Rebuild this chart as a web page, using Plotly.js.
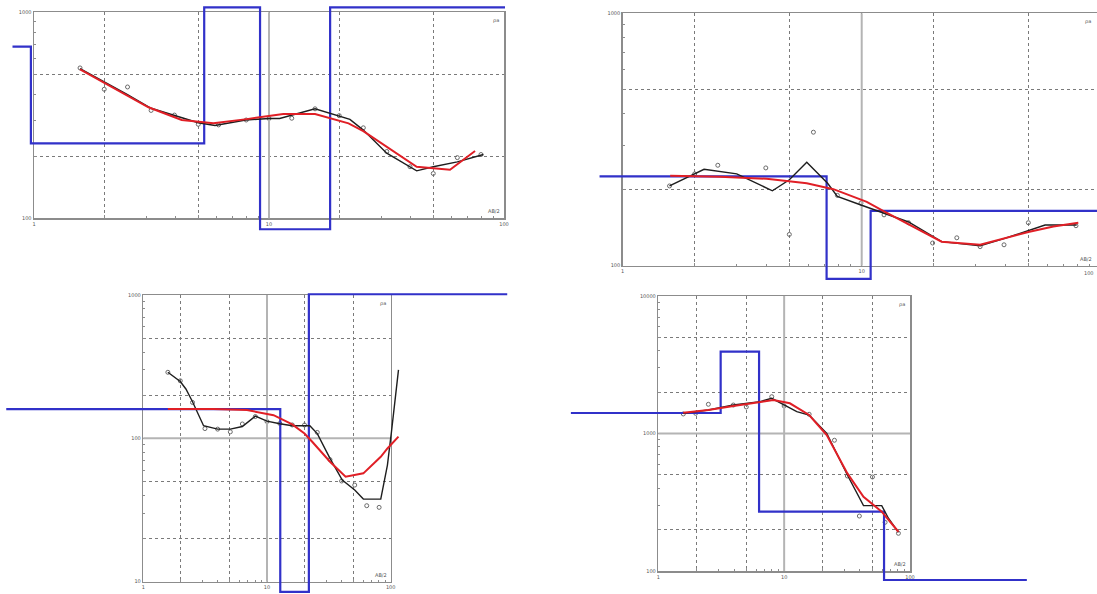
<!DOCTYPE html>
<html><head><meta charset="utf-8">
<script src="https://cdn.plot.ly/plotly-3.0.1.min.js"></script>
<style>html,body{margin:0;padding:0;background:#fff}#chart{width:1097px;height:594px}</style>
</head><body><div id="chart"></div>
<script>
// ---------- Panel 1 (top-left) ----------
const p1_ab  = [1.57,1.99,2.5,3.15,3.96,5.0,6.1,8.0,10,12.5,15.7,19.9,25.2,31.7,39.8,50,63.3,79.8];
const p1_rho = [537,423,434,334,317,286,284,300,305,306,340,315,275,211,178,165,197,204];
const p1_obs_x = [1.57,1.99,2.5,3.15,3.96,5.0,5.89,7.96,10,11.1,15.7,22.1,25.2,31.7,42.5,50,63.3,81.7];
const p1_obs_y = [533,460,398,342,317,291,282,300,305,305,340,302,268,207,170,178,188,204];
const p1_fit_x = [1.57,1.99,2.5,3.07,4.25,5.8,8.04,11.5,15.7,21.8,25.2,31.7,42.5,58.9,75.3];
const p1_fit_y = [529,455,392,346,300,289,303,321,321,289,265,223,178,172,212];
const p1_layer_ab  = [0.81,0.97,5.3,9.16,18.2,101];
const p1_layer_rho = [681,231,1057,88.5,1057,1057];

// ---------- Panel 2 (top-right) ----------
const p2_ab  = [1.57,2.0,2.5,3.97,4.98,6.28,7.91,9.93,12.4,15.7,19.8,25.0,31.3,39.4,49.8,78.8];
const p2_rho = [207,231,250,244,133,338,190,177,159,148,123,129,119,121,148,144];
const p2_obs_x = [1.57,2.01,2.19,3.0,4.23,4.98,5.89,7.2,7.91,9.93,12.4,15.7,21.6,31.3,39.4,49.8,58.5,79.3];
const p2_obs_y = [207,231,241,231,198,219,257,212,188,174,161,149,124.5,120,128,138,145,145];
const p2_fit_x = [1.58,2.55,4.0,5.89,7.61,10.5,12.4,15.9,21.6,31.3,39.4,49.8,63.4,80.6];
const p2_fit_y = [227,225,221,212,201,179,164,145,124.5,121,128,136,143,148];
const p2_layer_ab  = [0.8,7.13,10.9,120];
const p2_layer_rho = [226,88.6,165,165];

// ---------- Panel 3 (bottom-left) ----------
const p3_ab  = [1.58,1.99,2.5,3.15,3.99,5.05,6.32,8.05,10,12.7,16,20.1,25.5,32.3,40.1,51.2,64,80.6,101];
const p3_rho = [289,252,178,117,116,111,126,142,131,127,124,124,110,71,50.4,47.2,33.9,33.0,131];
const p3_obs_x = [1.58,1.99,2.21,2.5,3.07,3.99,5.05,6.32,8.05,10,12.7,16,22.2,25.5,32.3,40.6,51.2,60.1,83.1,94.1,101.4,115.6];
const p3_obs_y = [289,249,221,180,122.5,116,116,121,143,132,126.5,122.5,122.5,108,72.5,51.2,43.6,37.7,37.7,65.1,111,300];
const p3_fit_x = [1.58,3.7,6.89,11.3,16,20.1,23.2,32.3,43.2,60.1,83.1,94.1,115.6];
const p3_fit_y = [160,160,157.6,145,125,108,94.7,68.7,54,57,74.4,85,102.7];
const p3_layer_ab  = [0.078,12.8,21.8,875];
const p3_layer_rho = [160,8.5,1012,1012];

// ---------- Panel 4 (bottom-right) ----------
const p4_ab  = [1.58,1.98,2.5,3.95,5.0,7.97,10,15.8,25.1,31.8,39.6,50.3,63.4,80.9];
const p4_rho = [1387,1403,1631,1611,1559,1852,1585,1380,893,491,251,483,226,188];
const p4_obs_x = [1.58,1.98,2.5,3.95,5.01,6.43,7.96,9.98,12.6,15.8,21.8,31.8,42.7,59.6,67.4,80.9];
const p4_obs_y = [1402,1441,1482,1612,1658,1704,1802,1612,1441,1363,1003,499,299,299,242,191];
const p4_fit_x = [1.58,2.5,3.95,6.43,8.21,11.1,15.8,21.8,31.8,42.7,59.6,80.9];
const p4_fit_y = [1418,1482,1585,1704,1752,1658,1363,975,513,347,270,193];
const p4_layer_ab  = [0.202,3.13,6.32,62.2,848];
const p4_layer_rho = [1409,3936,270,86,86];

// ---------- Tick labels ----------
const xTickVals = [1,2,5,10,20,50,100];
const xTickText = ['1','','','10','','','100'];
const xMinor = [3,4,6,7,8,9,30,40,60,70,80,90];
const yTickValsA = [100,200,500,1000];
const yTickTextA = ['100','','','1000'];
const yMinorA = [300,400,600,700,800,900];
const yTickValsB = [10,20,50,100,200,500,1000];
const yTickTextB = ['10','','','100','','','1000'];
const yMinorB = [30,40,60,70,80,90,300,400,600,700,800,900];
const yTickValsC = [100,200,500,1000,2000,5000,10000];
const yTickTextC = ['100','','','1000','','','10000'];
const yMinorC = [300,400,600,700,800,900,3000,4000,6000,7000,8000,9000];
const xDecadeLines = [10];
const yDecadeLinesB = [100];
const yDecadeLinesC = [1000];

const W = 1097, H = 594;

const panels = [
  {ab:p1_ab, rho:p1_rho, ox:p1_obs_x, oy:p1_obs_y, fx:p1_fit_x, fy:p1_fit_y, lx:p1_layer_ab, ly:p1_layer_rho,
   ytv:yTickValsA, ytt:yTickTextA, ymin:yMinorA, ydec:[],
   f:{x0:34, x1:504, y0:12.3, y1:218.3, xr:[0,2], yr:[2,3]}},
  {ab:p2_ab, rho:p2_rho, ox:p2_obs_x, oy:p2_obs_y, fx:p2_fit_x, fy:p2_fit_y, lx:p2_layer_ab, ly:p2_layer_rho,
   ytv:yTickValsA, ytt:yTickTextA, ymin:yMinorA, ydec:[],
   f:{x0:622.7, x1:1100.7, y0:13.3, y1:265.7, xr:[0,2], yr:[2,3]}},
  {ab:p3_ab, rho:p3_rho, ox:p3_obs_x, oy:p3_obs_y, fx:p3_fit_x, fy:p3_fit_y, lx:p3_layer_ab, ly:p3_layer_rho,
   ytv:yTickValsB, ytt:yTickTextB, ymin:yMinorB, ydec:yDecadeLinesB,
   f:{x0:143.3, x1:390.7, y0:295, y1:581.7, xr:[0,2], yr:[1,3]}},
  {ab:p4_ab, rho:p4_rho, ox:p4_obs_x, oy:p4_obs_y, fx:p4_fit_x, fy:p4_fit_y, lx:p4_layer_ab, ly:p4_layer_rho,
   ytv:yTickValsC, ytt:yTickTextC, ymin:yMinorC, ydec:yDecadeLinesC,
   f:{x0:658.3, x1:910, y0:296, y1:571, xr:[0,2], yr:[2,4]}}
];

const FRAME = '#8c8c8c', GRID = '#7a7a7a', LABEL = '#555';
const tickFont = {family:'DejaVu Sans, sans-serif', size:5, color:LABEL};
const traces = [], shapes = [], annotations = [];
const layout = {
  width:W, height:H, margin:{l:0,r:0,t:0,b:0}, showlegend:false,
  paper_bgcolor:'#ffffff', plot_bgcolor:'rgba(0,0,0,0)'
};

panels.forEach((p, i) => {
  const f = p.f;
  const n = i + 1, m = i + 5;
  const xk = n === 1 ? 'x' : 'x' + n, yk = n === 1 ? 'y' : 'y' + n;
  const xo = 'x' + m, yo = 'y' + m;
  const ppdx = (f.x1 - f.x0) / (f.xr[1] - f.xr[0]);
  const ppdy = (f.y1 - f.y0) / (f.yr[1] - f.yr[0]);
  const visX1 = Math.min(f.x1, W);
  const mainXRange = [f.xr[0], f.xr[0] + (visX1 - f.x0) / ppdx];

  layout['xaxis' + (n === 1 ? '' : n)] = {
    type:'log', domain:[f.x0 / W, visX1 / W], range:mainXRange, anchor:yk,
    showline:true, linecolor:FRAME, linewidth:1.5, mirror:true,
    ticks:'inside', ticklen:3, tickwidth:1, tickcolor:FRAME,
    tickmode:'array', tickvals:xTickVals, ticktext:xTickText, tickfont:tickFont,
    showgrid:true, gridcolor:GRID, gridwidth:1, griddash:'dot',
    minor:{tickmode:'array', tickvals:xMinor, ticks:'inside', ticklen:2, tickwidth:1, tickcolor:FRAME, showgrid:false},
    zeroline:false, fixedrange:true, automargin:false
  };
  layout['yaxis' + (n === 1 ? '' : n)] = {
    type:'log', domain:[1 - f.y1 / H, 1 - f.y0 / H], range:f.yr, anchor:xk,
    showline:true, linecolor:FRAME, linewidth:1.5, mirror: f.x1 <= W,
    ticks:'inside', ticklen:3, tickwidth:1, tickcolor:FRAME,
    tickmode:'array', tickvals:p.ytv, ticktext:p.ytt, tickfont:tickFont,
    showgrid:true, gridcolor:GRID, gridwidth:1, griddash:'dot',
    minor:{tickmode:'array', tickvals:p.ymin, ticks:'inside', ticklen:2, tickwidth:1, tickcolor:FRAME, showgrid:false},
    zeroline:false, fixedrange:true, automargin:false
  };
  // overlay axes spanning the whole page, aligned to the same scale
  layout['xaxis' + m] = {
    type:'log', domain:[0,1], anchor:yo, visible:false, fixedrange:true,
    range:[f.xr[0] - f.x0 / ppdx, f.xr[0] + (W - f.x0) / ppdx]
  };
  layout['yaxis' + m] = {
    type:'log', domain:[0,1], anchor:xo, visible:false, fixedrange:true,
    range:[f.yr[0] - (H - f.y1) / ppdy, f.yr[1] + f.y0 / ppdy]
  };

  // solid decade grid lines (drawn on the overlay subplot, below its traces)
  const yLo = Math.pow(10, f.yr[0]), yHi = Math.pow(10, f.yr[1]);
  const xLo = Math.pow(10, mainXRange[0]), xHi = Math.pow(10, mainXRange[1]);
  xDecadeLines.forEach(v => shapes.push({type:'line', xref:xo, yref:yo, x0:v, x1:v, y0:yLo, y1:yHi,
    line:{color:'#b4b4b4', width:2}, layer:'below'}));
  p.ydec.forEach(v => shapes.push({type:'line', xref:xo, yref:yo, x0:xLo, x1:xHi, y0:v, y1:v,
    line:{color:'#b4b4b4', width:2}, layer:'below'}));

  traces.push({x:p.ab, y:p.rho, mode:'markers', xaxis:xk, yaxis:yk, cliponaxis:false, hoverinfo:'skip',
    marker:{symbol:'circle-open', size:4, color:'#6a6a6a', line:{width:1, color:'#6a6a6a'}}});
  traces.push({x:p.lx, y:p.ly, mode:'lines', xaxis:xo, yaxis:yo, hoverinfo:'skip',
    line:{shape:'hv', color:'#3131c9', width:2.2}});
  traces.push({x:p.ox, y:p.oy, mode:'lines', xaxis:xo, yaxis:yo, hoverinfo:'skip',
    line:{color:'#1e1e1e', width:1.4}});
  traces.push({x:p.fx, y:p.fy, mode:'lines', xaxis:xo, yaxis:yo, hoverinfo:'skip',
    line:{color:'#e01f26', width:2}});

  const af = {family:'DejaVu Sans, sans-serif', size:5, color:LABEL};
  const rightX = Math.min(f.x1, W - 1);
  annotations.push({xref:'paper', yref:'paper', x:(rightX - 3) / W, y:1 - (f.y0 + 3) / H,
    xanchor:'right', yanchor:'top', text:'ρa', showarrow:false, font:af});
  annotations.push({xref:'paper', yref:'paper', x:(rightX - 2) / W, y:1 - (f.y1 - 2) / H,
    xanchor:'right', yanchor:'bottom', text:'AB/2', showarrow:false, font:af});
  if (f.x1 > W) {
    annotations.push({xref:'paper', yref:'paper', x:rightX / W, y:1 - (f.y1 + 2) / H,
      xanchor:'right', yanchor:'top', text:'100', showarrow:false, font:af});
  }
});

layout.shapes = shapes;
layout.annotations = annotations;
Plotly.newPlot('chart', traces, layout, {staticPlot:true, displayModeBar:false});
</script>
</body></html>
